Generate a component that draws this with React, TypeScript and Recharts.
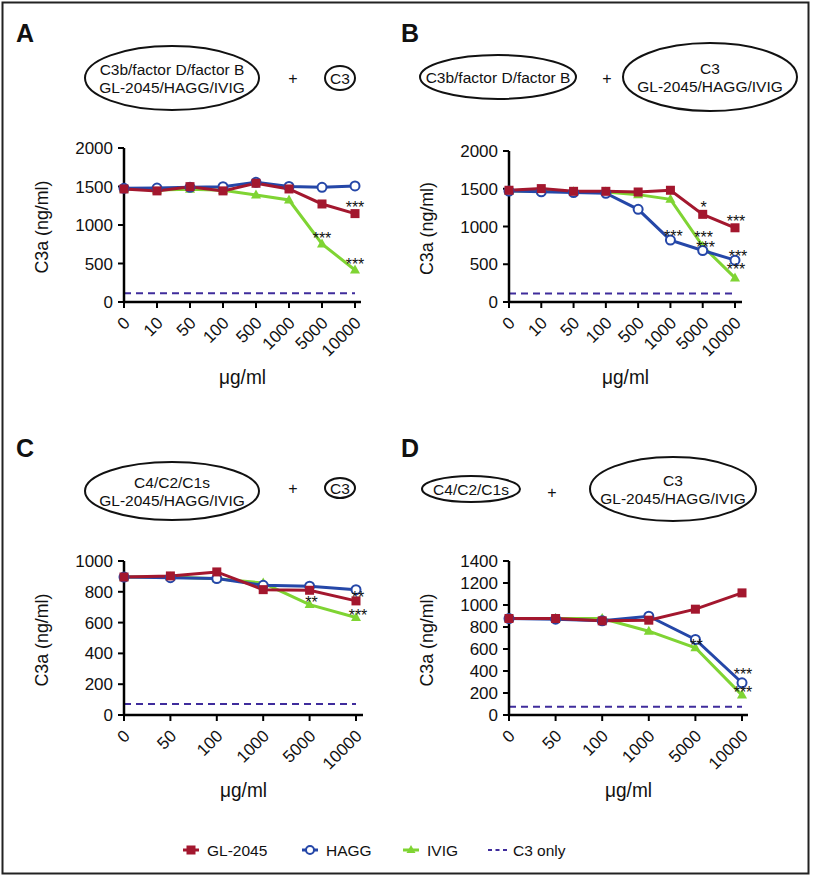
import React from 'react';
import { LineChart, Line, XAxis, YAxis, ReferenceLine, LabelList } from 'recharts';

// concentrations (µg/ml) on the x axis
const catsAB = ['0', '10', '50', '100', '500', '1000', '5000', '10000'];
const catsCD = ['0', '50', '100', '1000', '5000', '10000'];

// panel A – C3b/factor D/factor B + inhibitor, then C3
const glA = [1468, 1443, 1498, 1443, 1542, 1468, 1273, 1148];
const haggA = [1477, 1480, 1490, 1498, 1555, 1500, 1490, 1507];
const ivigA = [1470, 1455, 1464, 1450, 1390, 1325, 754, 416];
const sigGlA = ['', '', '', '', '', '', '', '***'];
const sigHaggA = ['', '', '', '', '', '', '', ''];
const sigIvigA = ['', '', '', '', '', '', '***', '***'];
const c3OnlyA = 113;

// panel B – C3 + inhibitor
const glB = [1480, 1502, 1466, 1466, 1457, 1480, 1161, 983];
const haggB = [1470, 1460, 1450, 1440, 1227, 820, 682, 554];
const ivigB = [1470, 1470, 1460, 1457, 1422, 1360, 740, 319];
const sigGlB = ['', '', '', '', '', '', '*', '***'];
const sigHaggB = ['', '', '', '', '', '***', '***', '***'];
const sigIvigB = ['', '', '', '', '', '', '***', '***'];
const c3OnlyB = 113;

// panel C – C4/C2/C1s + inhibitor, then C3
const glC = [896, 903, 929, 814, 810, 741];
const haggC = [896, 892, 886, 842, 836, 814];
const ivigC = [896, 896, 885, 857, 717, 633];
const sigGlC = ['', '', '', '', '', '**'];
const sigHaggC = ['', '', '', '', '', ''];
const sigIvigC = ['', '', '', '', '**', '***'];
const c3OnlyC = 71;

// panel D – C3 + inhibitor
const glD = [877, 877, 856, 862, 962, 1110];
const haggD = [877, 871, 856, 898, 687, 293];
const ivigD = [877, 877, 877, 762, 611, 181];
const sigGlD = ['', '', '', '', '', ''];
const sigHaggD = ['', '', '', '', '', '***'];
const sigIvigD = ['', '', '', '', '**', '***'];
const c3OnlyD = 76;

const ticks2000 = [0, 500, 1000, 1500, 2000];
const ticks1000 = [0, 200, 400, 600, 800, 1000];
const ticks1400 = [0, 200, 400, 600, 800, 1000, 1200, 1400];

const RED = '#a3172e';
const BLUE = '#2547a8';
const GREEN = '#7fd433';
const PURPLE = '#3f2c9c';

const FONT = "'Liberation Sans', Arial, Helvetica, sans-serif";

const Y_W = 70;
const X_H = 60;

const squareDot = (color: string) => (props: any) => {
  const { cx, cy, index } = props;
  return <rect key={`s${index}`} x={cx - 4.5} y={cy - 4.5} width={9} height={9} fill={color} />;
};
const circleDot = (color: string) => (props: any) => {
  const { cx, cy, index } = props;
  return <circle key={`c${index}`} cx={cx} cy={cy} r={4.5} fill="#fff" stroke={color} strokeWidth={2} />;
};
const triDot = (color: string) => (props: any) => {
  const { cx, cy, index } = props;
  return <path key={`t${index}`} d={`M${cx},${cy - 5.5}L${cx + 5},${cy + 3.5}L${cx - 5},${cy + 3.5}Z`} fill={color} />;
};

const XTick = (props: any) => {
  const { x, y, payload } = props;
  const px = x + 7;
  const py = y + 14;
  return (
    <text x={px} y={py} textAnchor="end" transform={`rotate(-45, ${px}, ${py})`}
      fontFamily={FONT} fontSize={17} fill="#111">
      {payload.value}
    </text>
  );
};

const stars = (dx: number, dy: number) => (p: any) => {
  if (!p.value) return null;
  const x = p.x ?? p.viewBox?.x;
  const y = p.y ?? p.viewBox?.y;
  return (
    <text key={`st${p.index}`} x={x + dx} y={y + dy + 10} textAnchor="middle" fontFamily={FONT} fontSize={16} fill="#111">
      {p.value}
    </text>
  );
};

type PanelDef = {
  cats: string[];
  gl: number[]; hagg: number[]; ivig: number[];
  sGl: string[]; sHagg: string[]; sIvig: string[];
  c3: number; yMax: number; yTicks: number[];
  left: number; top: number; bottom: number; right: number; padR: number;
  off: { gl: [number, number]; hagg: [number, number]; ivig: [number, number] };
};

const panels: PanelDef[] = [
  {
    cats: catsAB, gl: glA, hagg: haggA, ivig: ivigA, sGl: sigGlA, sHagg: sigHaggA, sIvig: sigIvigA,
    c3: c3OnlyA, yMax: 2000, yTicks: ticks2000,
    left: 124, top: 148, bottom: 302, right: 361, padR: 6,
    off: { gl: [0, -11], hagg: [0, -9], ivig: [0, -10] },
  },
  {
    cats: catsAB, gl: glB, hagg: haggB, ivig: ivigB, sGl: sigGlB, sHagg: sigHaggB, sIvig: sigIvigB,
    c3: c3OnlyB, yMax: 2000, yTicks: ticks2000,
    left: 509, top: 151, bottom: 302, right: 742, padR: 7,
    off: { gl: [1, -11], hagg: [3, -8], ivig: [1, -13] },
  },
  {
    cats: catsCD, gl: glC, hagg: haggC, ivig: ivigC, sGl: sigGlC, sHagg: sigHaggC, sIvig: sigIvigC,
    c3: c3OnlyC, yMax: 1000, yTicks: ticks1000,
    left: 124, top: 561, bottom: 715, right: 363, padR: 7,
    off: { gl: [2, -8], hagg: [0, -8], ivig: [2, -7] },
  },
  {
    cats: catsCD, gl: glD, hagg: haggD, ivig: ivigD, sGl: sigGlD, sHagg: sigHaggD, sIvig: sigIvigD,
    c3: c3OnlyD, yMax: 1400, yTicks: ticks1400,
    left: 509, top: 561, bottom: 715, right: 748, padR: 6,
    off: { gl: [0, -10], hagg: [1, -13], ivig: [1, -7] },
  },
];

function Panel({ p }: { p: PanelDef }) {
  const rows = p.cats.map((c, i) => ({
    cat: c, gl: p.gl[i], hagg: p.hagg[i], ivig: p.ivig[i],
    sGl: p.sGl[i], sHagg: p.sHagg[i], sIvig: p.sIvig[i],
  }));
  const plotW = p.right - p.left;
  const plotH = p.bottom - p.top;
  const W = Y_W + plotW + 10;
  const H = 10 + plotH + X_H + 10;
  const last = p.cats[p.cats.length - 1];
  return (
    <div style={{ position: 'absolute', left: p.left - Y_W, top: p.top - 10 }}>
      <LineChart width={W} height={H} data={rows} margin={{ top: 10, right: 10, bottom: 10, left: 0 }}>
        <XAxis dataKey="cat" interval={0} height={X_H} padding={{ left: 0, right: p.padR }}
          tick={XTick} tickSize={6} tickMargin={2}
          axisLine={{ stroke: '#000', strokeWidth: 2.5 }} tickLine={{ stroke: '#000', strokeWidth: 2 }} />
        <YAxis type="number" domain={[0, p.yMax]} ticks={p.yTicks} interval={0} width={Y_W}
          tickSize={6} tickMargin={5}
          tick={{ fontFamily: FONT, fontSize: 17, fill: '#111' }}
          axisLine={{ stroke: '#000', strokeWidth: 2.5 }} tickLine={{ stroke: '#000', strokeWidth: 2 }} />
        <ReferenceLine segment={[{ x: '0', y: p.c3 }, { x: last, y: p.c3 }]}
          stroke={PURPLE} strokeWidth={2} strokeDasharray="7 5" />
        <Line type="linear" dataKey="ivig" stroke={GREEN} strokeWidth={3} dot={triDot(GREEN)}
          activeDot={false} isAnimationActive={false}>
          <LabelList dataKey="sIvig" content={stars(p.off.ivig[0], p.off.ivig[1])} />
        </Line>
        <Line type="linear" dataKey="hagg" stroke={BLUE} strokeWidth={3} dot={circleDot(BLUE)}
          activeDot={false} isAnimationActive={false}>
          <LabelList dataKey="sHagg" content={stars(p.off.hagg[0], p.off.hagg[1])} />
        </Line>
        <Line type="linear" dataKey="gl" stroke={RED} strokeWidth={3} dot={squareDot(RED)}
          activeDot={false} isAnimationActive={false}>
          <LabelList dataKey="sGl" content={stars(p.off.gl[0], p.off.gl[1])} />
        </Line>
      </LineChart>
    </div>
  );
}

// header reaction schemes above each panel
type Scheme = { cx: number; cy: number; rx: number; ry: number; lines: string[] };
const headers: { letter: string; lx: number; ly: number; a: Scheme; plus: [number, number]; b: Scheme }[] = [
  {
    letter: 'A', lx: 16, ly: 42,
    a: { cx: 172, cy: 78, rx: 87, ry: 32, lines: ['C3b/factor D/factor B', 'GL-2045/HAGG/IVIG'] },
    plus: [293, 78],
    b: { cx: 340, cy: 78, rx: 15, ry: 12, lines: ['C3'] },
  },
  {
    letter: 'B', lx: 401, ly: 42,
    a: { cx: 498, cy: 77, rx: 78, ry: 22, lines: ['C3b/factor D/factor B'] },
    plus: [607, 78],
    b: { cx: 710, cy: 77, rx: 87, ry: 34, lines: ['C3', 'GL-2045/HAGG/IVIG'] },
  },
  {
    letter: 'C', lx: 16, ly: 457,
    a: { cx: 172, cy: 491, rx: 87, ry: 29, lines: ['C4/C2/C1s', 'GL-2045/HAGG/IVIG'] },
    plus: [293, 488],
    b: { cx: 340, cy: 488, rx: 15, ry: 10, lines: ['C3'] },
  },
  {
    letter: 'D', lx: 401, ly: 457,
    a: { cx: 471, cy: 489, rx: 49, ry: 13, lines: ['C4/C2/C1s'] },
    plus: [552, 492],
    b: { cx: 673, cy: 489, rx: 83, ry: 32, lines: ['C3', 'GL-2045/HAGG/IVIG'] },
  },
];

const SchemeEllipse = ({ s }: { s: Scheme }) => (
  <g>
    <ellipse cx={s.cx} cy={s.cy} rx={s.rx} ry={s.ry} fill="none" stroke="#111" strokeWidth={2} />
    {s.lines.map((t, i) => (
      <text key={i} x={s.cx} y={s.cy + 5.5 + (i - (s.lines.length - 1) / 2) * 18} textAnchor="middle"
        fontFamily={FONT} fontSize={15.5} fill="#111">{t}</text>
    ))}
  </g>
);

const legendItems = [
  { name: 'GL-2045', color: RED, kind: 'square', x: 183 },
  { name: 'HAGG', color: BLUE, kind: 'circle', x: 302 },
  { name: 'IVIG', color: GREEN, kind: 'tri', x: 403 },
  { name: 'C3 only', color: PURPLE, kind: 'dash', x: 488 },
];

export default function App() {
  const LY = 850;
  return (
    <div style={{ position: 'absolute', left: 0, top: 0, width: 815, height: 877, background: '#fff' }}>
      {panels.map((p, i) => <Panel key={i} p={p} />)}
      <svg width={815} height={877} style={{ position: 'absolute', left: 0, top: 0, pointerEvents: 'none' }}>
        <rect x={2.5} y={2.5} width={806} height={871} fill="none" stroke="#222" strokeWidth={2} />
        {headers.map((h, i) => (
          <g key={i}>
            <text x={h.lx} y={h.ly} fontFamily={FONT} fontWeight="bold" fontSize={25} fill="#111">{h.letter}</text>
            <SchemeEllipse s={h.a} />
            <text x={h.plus[0]} y={h.plus[1] + 5.5} textAnchor="middle" fontFamily={FONT} fontSize={16} fill="#111">+</text>
            <SchemeEllipse s={h.b} />
          </g>
        ))}
        {panels.map((p, i) => {
          const ymid = (p.top + p.bottom) / 2 + 2;
          const lx = p.left - 76;
          const xmid = (p.left + p.right) / 2;
          return (
            <g key={`lab${i}`}>
              <text x={lx} y={ymid} textAnchor="middle" transform={`rotate(-90, ${lx}, ${ymid})`}
                fontFamily={FONT} fontSize={19} textLength={93} lengthAdjust="spacingAndGlyphs" fill="#111">C3a (ng/ml)</text>
              <text x={xmid} y={p.bottom + 82} textAnchor="middle" fontFamily={FONT} fontSize={20}
                textLength={47} lengthAdjust="spacingAndGlyphs" fill="#111">μg/ml</text>
            </g>
          );
        })}
        {legendItems.map((it) => (
          <g key={it.name}>
            {it.kind === 'dash' ? (
              <line x1={it.x} x2={it.x + 19} y1={LY} y2={LY} stroke={it.color} strokeWidth={2} strokeDasharray="4 3.5" />
            ) : (
              <line x1={it.x} x2={it.x + 16} y1={LY} y2={LY} stroke={it.color} strokeWidth={3} />
            )}
            {it.kind === 'square' && <rect x={it.x + 3.5} y={LY - 4.5} width={9} height={9} fill={it.color} />}
            {it.kind === 'circle' && <circle cx={it.x + 8} cy={LY} r={4} fill="#fff" stroke={it.color} strokeWidth={2} />}
            {it.kind === 'tri' && <path d={`M${it.x + 8},${LY - 5}L${it.x + 12.5},${LY + 3}L${it.x + 3.5},${LY + 3}Z`} fill={it.color} />}
            <text x={it.x + (it.kind === 'dash' ? 25 : 24)} y={LY + 5.5} fontFamily={FONT} fontSize={15.5} fill="#111">{it.name}</text>
          </g>
        ))}
      </svg>
    </div>
  );
}
